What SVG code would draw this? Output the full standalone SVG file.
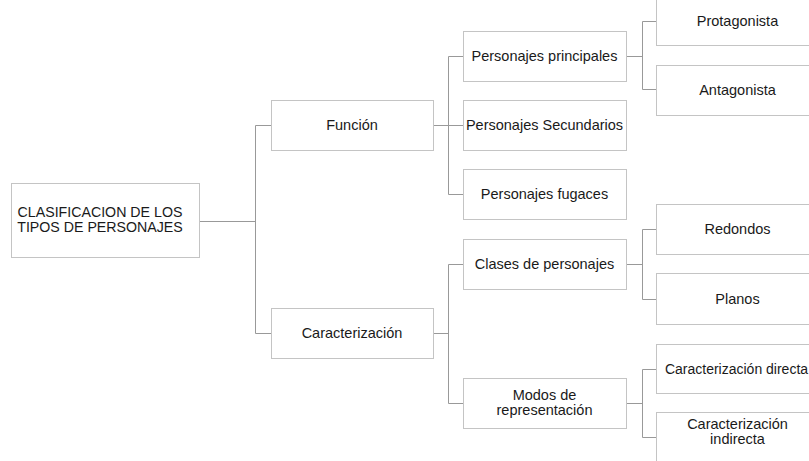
<svg xmlns="http://www.w3.org/2000/svg" width="809" height="461" viewBox="0 0 809 461">
<style>
.box{fill:#fff;stroke:#c4c4c4;stroke-width:1}
.lbl{font-family:"Liberation Sans",Arial,sans-serif;font-size:14.5px;fill:#1a1a1a;text-anchor:middle}
.conn{fill:none;stroke:#999;stroke-width:1}
</style>
<rect width="809" height="461" fill="#fff"/>
<g id="connectors" class="conn">
<path d="M199 221.5H255.5M255.5 125.5V333.5M255.5 125.5H271M255.5 333.5H271"/>
<path d="M433 125.5H448.5M448.5 56.5V194.5M448.5 56.5H463M448.5 125.5H463M448.5 194.5H463"/>
<path d="M433 333.5H448.5M448.5 264.5V403.5M448.5 264.5H463M448.5 403.5H463"/>
<path d="M626 56.5H642.5M642.5 21.5V89.5M642.5 21.5H656M642.5 89.5H656"/>
<path d="M626 264.5H642.5M642.5 229.5V299.5M642.5 229.5H656M642.5 299.5H656"/>
<path d="M626 403.5H642.5M642.5 369.5V437.5M642.5 369.5H656M642.5 437.5H656"/>
</g>
<g id="root"><rect class="box" x="11.5" y="183.5" width="188" height="74"/><text class="lbl" style="font-size:14.2px"><tspan x="100" y="217">CLASIFICACION DE LOS</tspan><tspan x="100" y="232">TIPOS DE PERSONAJES</tspan></text></g>
<g id="funcion"><rect class="box" x="271.5" y="100.5" width="162" height="50"/><text class="lbl" x="352" y="130">Función</text></g>
<g id="caracterizacion"><rect class="box" x="271.5" y="308.5" width="162" height="50"/><text class="lbl" x="352" y="338">Caracterización</text></g>
<g id="principales"><rect class="box" x="463.5" y="31.5" width="163" height="50"/><text class="lbl" x="544.5" y="61">Personajes principales</text></g>
<g id="secundarios"><rect class="box" x="463.5" y="100.5" width="163" height="50"/><text class="lbl" x="544.5" y="130">Personajes Secundarios</text></g>
<g id="fugaces"><rect class="box" x="463.5" y="169.5" width="163" height="50"/><text class="lbl" x="544.5" y="199">Personajes fugaces</text></g>
<g id="clases"><rect class="box" x="463.5" y="239.5" width="163" height="50"/><text class="lbl" x="544.5" y="269">Clases de personajes</text></g>
<g id="modos"><rect class="box" x="463.5" y="378.5" width="163" height="50"/><text class="lbl"><tspan x="544.5" y="400">Modos de</tspan><tspan x="544.5" y="415">representación</tspan></text></g>
<g id="protagonista"><rect class="box" x="656.5" y="-4.5" width="163" height="50"/><text class="lbl" x="737.5" y="26">Protagonista</text></g>
<g id="antagonista"><rect class="box" x="656.5" y="65.5" width="163" height="50"/><text class="lbl" x="737.5" y="95">Antagonista</text></g>
<g id="redondos"><rect class="box" x="656.5" y="204.5" width="163" height="50"/><text class="lbl" x="737.5" y="234">Redondos</text></g>
<g id="planos"><rect class="box" x="656.5" y="273.5" width="163" height="51"/><text class="lbl" x="737.5" y="304">Planos</text></g>
<g id="directa"><rect class="box" x="656.5" y="344.5" width="163" height="49"/><text class="lbl" x="736.5" y="374" style="font-size:14px">Caracterización directa</text></g>
<g id="indirecta"><rect class="box" x="656.5" y="412.5" width="163" height="50"/><text class="lbl"><tspan x="737.5" y="429">Caracterización</tspan><tspan x="737.5" y="444">indirecta</tspan></text></g>
</svg>
